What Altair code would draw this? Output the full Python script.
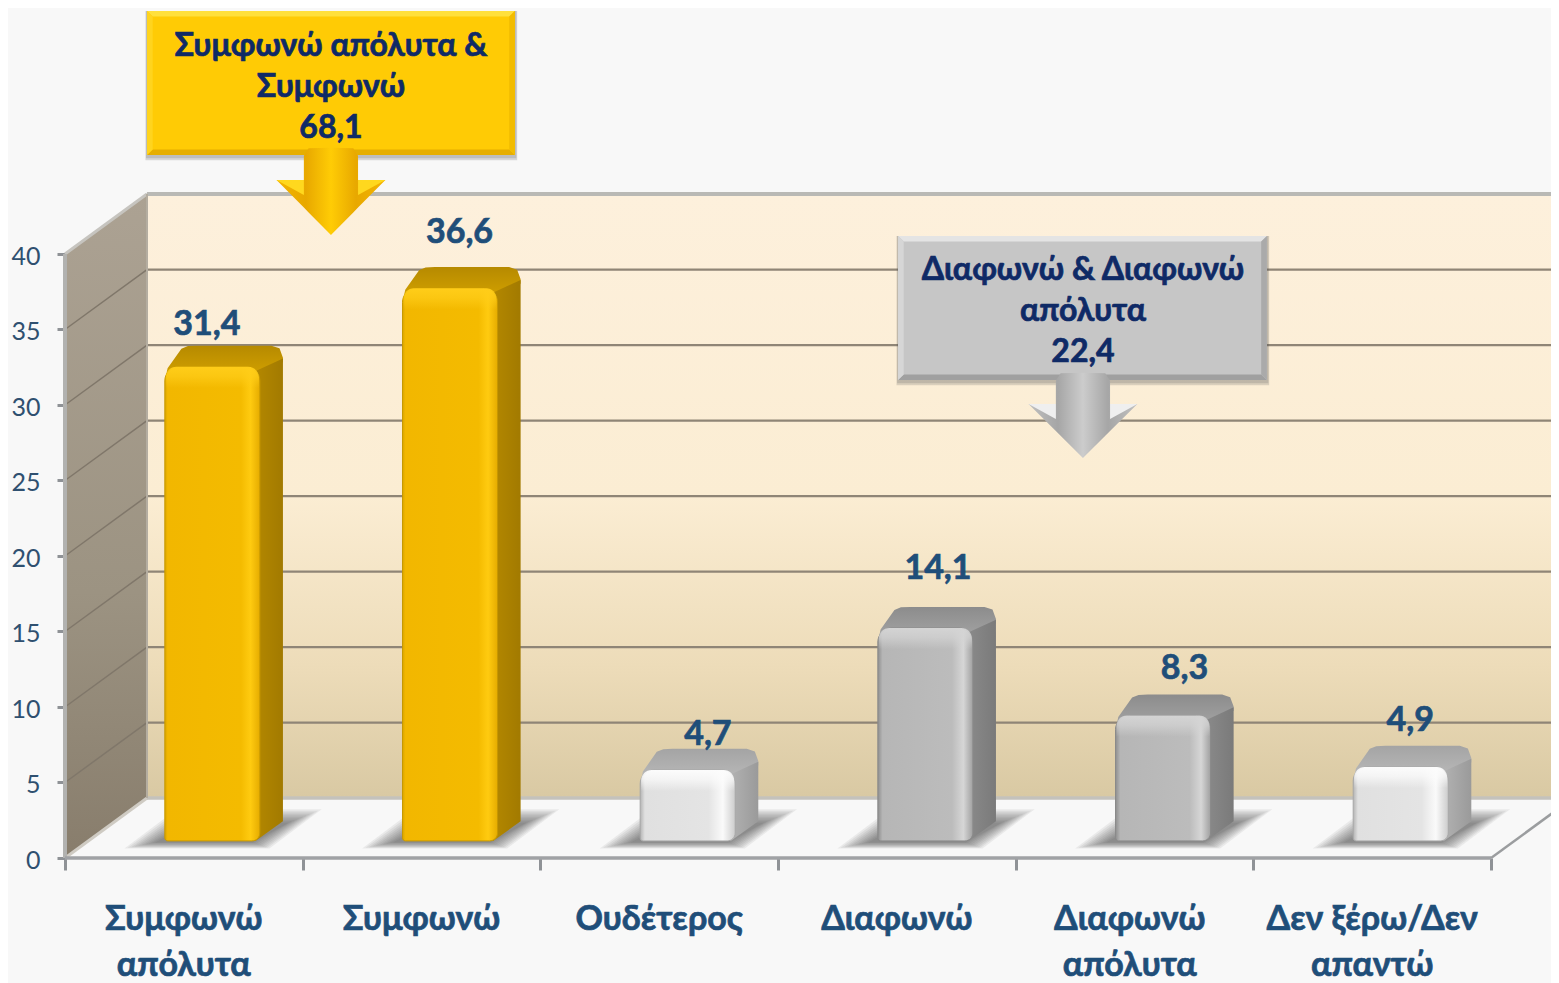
import altair as alt
import pandas as pd

# ---- chart data ----
categories = ["Συμφωνώ\nαπόλυτα", "Συμφωνώ", "Ουδέτερος", "Διαφωνώ", "Διαφωνώ\nαπόλυτα", "Δεν ξέρω/Δεν\nαπαντώ"]
values = [31.4, 36.6, 4.7, 14.1, 8.3, 4.9]
value_labels = ["31,4", "36,6", "4,7", "14,1", "8,3", "4,9"]
bar_groups = ["gold", "gold", "light", "silver", "silver", "light"]
y_ticks = [0, 5, 10, 15, 20, 25, 30, 35, 40]
callouts = ["Συμφωνώ απόλυτα &\nΣυμφωνώ\n68,1", "Διαφωνώ & Διαφωνώ\nαπόλυτα\n22,4"]

# ---- layout (data units: one category = 1 on x, one percentage point = 1 on y) ----
W, H = 1543, 975
XD = [-0.2398, 6.2523]
YD = [-8.278, 56.29]
DX, DY = 0.345, 3.97         # depth of the box
BAR_L, BAR_W, BAR_B = 0.42, 0.40, 1.13
SD, SH = 0.097, 1.4          # bar depth
FONT = "Lato"
BLUE = "#1f4e79"
NAVY = "#0f2a66"

xs = alt.Scale(domain=XD, nice=False, zero=False)
ys = alt.Scale(domain=YD, nice=False, zero=False)
XAX = alt.Axis(values=list(range(7)), labels=False, title=None, grid=False, domain=False,
               tickSize=12, tickWidth=3, tickColor="#8f9296", offset=-125)
YAX = alt.Axis(values=y_ticks, title=None, grid=False, domain=False, tickSize=8, tickWidth=3,
               tickColor="#8f9296", offset=-57, labelPadding=17, labelFontSize=25, labelOffset=2.5,
               labelFont=FONT, labelColor="#2f5070", labelFlush=False)
X = alt.X("x:Q", scale=xs, axis=XAX)
Y = alt.Y("y:Q", scale=ys, axis=YAX, stack=False)


def grad(stops, horizontal=False):
    n = len(stops) - 1
    st = [alt.GradientStop(offset=(s[0] if isinstance(s, tuple) else i / n),
                           color=(s[1] if isinstance(s, tuple) else s)) for i, s in enumerate(stops)]
    if horizontal:
        return alt.Gradient(gradient="linear", stops=st, x1=0, x2=1, y1=0, y2=0)
    return alt.Gradient(gradient="linear", stops=st, x1=0, x2=0, y1=0, y2=1)


def poly(rows, fill, **kw):
    df = pd.DataFrame(rows, columns=["x", "y", "b"])
    return alt.Chart(df).mark_area(color=fill, orient="vertical", interpolate="linear", **kw).encode(
        x=X, y=Y, y2=alt.Y2("b"))


def rect(x0, x1, y0, y1, fill, **kw):
    df = pd.DataFrame({"x": [x0], "x2": [x1], "y": [y0], "y2": [y1]})
    return alt.Chart(df).mark_rect(color=fill, **kw).encode(x=X, x2="x2:Q", y=Y, y2="y2:Q")


def segs(seglist, color, width, **kw):
    rows = []
    for k, (a, b, c, d) in enumerate(seglist):
        rows += [{"x": a, "y": b, "k": k, "o": 0}, {"x": c, "y": d, "k": k, "o": 1}]
    return alt.Chart(pd.DataFrame(rows)).mark_line(color=color, strokeWidth=width, **kw).encode(
        x=X, y=Y, detail="k:N", order=alt.Order("o:Q"))


layers = []

# back wall
layers.append(rect(DX, 6.5, 40 + DY, DY,
                   grad([(0, "#fdf0dc"), (0.5, "#fbedd3"), (0.78, "#eddcb9"), (1, "#d9c9a3")])))

# left wall
layers.append(poly([(0, 40, 0), (DX, 40 + DY, DY)], grad([(0, "#aca293"), (0.6, "#9c9382"), (1, "#887d6c")])))

# floor
layers.append(poly([(0, 0, 0), (DX, DY, 0), (6, DY, 0), (6 + DX, DY, DY)], "#f8f8f8"))

# grid lines on the walls
gv = [v for v in y_ticks if 0 < v < 40]
layers.append(segs([(DX, v + DY, 6.5, v + DY) for v in gv], "#8f8576", 2.2))
layers.append(segs([(0, v, DX, v + DY) for v in gv], "#80776a", 1.5))

# box edges
layers.append(segs([(DX, 40 + DY, 6.5, 40 + DY)], "#b9b9b5", 4))
layers.append(segs([(0, 40, DX, 40 + DY)], "#c6c4bf", 3))
layers.append(segs([(0, 0, DX, DY)], "#cfcbc3", 3))
layers.append(segs([(DX, DY, 6.5, DY)], "#c4c2bc", 3.5))
layers.append(segs([(DX, DY, DX, 40 + DY)], "#b4ada0", 2))
layers.append(segs([(0, 0, 0, 40)], "#b2b2b0", 4))
layers.append(segs([(0, 0, 6, 0)], "#a0a2a5", 3.5))
layers.append(segs([(6, 0, 6 + DX, DY)], "#9b9d9f", 2.5))

PAL = {
    "gold": dict(
        front=[(0, "#d8a400"), (0.03, "#f2b700"), (0.8, "#f4bb00"), (0.9, "#ffcb10"), (1, "#e6ac00")],
        hi="255,205,25", side=["#b48800", "#a27a00"], top=["#b68a00", "#d6a400"], line="#c79800"),
    "silver": dict(
        front=[(0, "#8e8e8e"), (0.05, "#b6b6b6"), (0.78, "#bcbcbc"), (0.9, "#d6d6d6"), (1, "#a0a0a0")],
        hi="212,212,212", side=["#8a8a8a", "#7a7a7a"], top=["#8c8c8c", "#a6a6a6"], line="#8a8a8a"),
    "light": dict(
        front=[(0, "#b4b4b4"), (0.05, "#e0e0e0"), (0.72, "#e4e4e4"), (0.87, "#fafafa"), (1, "#cccccc")],
        hi="252,252,252", side=["#b2b2b2", "#9a9a9a"], top=["#a4a4a4", "#bcbcbc"], line="#a8a8a8"),
}

# floor shadows: nested translucent parallelograms
SHADOW_STEPS = [k / 9 for k in range(10)]
for i in range(6):
    x0 = i + BAR_L
    x1 = x0 + BAR_W
    for e in SHADOW_STEPS:
        a = x0 - 0.17 + 0.13 * e
        c = x1 + 0.04 - 0.07 * e
        d = 0.22 - 0.07 * e
        t = BAR_B + 2.1 - 0.9 * e
        b = BAR_B - 0.5 + 0.4 * e
        layers.append(poly([(a, b, b), (a + d, t, b), (c, t, b), (c + d, t, t)], "#333333", opacity=0.075))

# bars
for i, (v, g) in enumerate(zip(values, bar_groups)):
    p = PAL[g]
    x0 = i + BAR_L
    x1 = x0 + BAR_W
    T = BAR_B + v
    B = BAR_B
    layers.append(poly([(x0, T - 0.9, T - 0.9), (x0 + SD * 0.12, T - 0.1, T - 0.9), (x0 + SD * 0.72, T + SH - 0.2, T - 0.9),
                        (x0 + SD * 1.0, T + SH - 0.03, T - 0.9), (x0 + SD * 1.4, T + SH, T - 0.9),
                        (x1 + SD * 0.5, T + SH, T - 0.9), (x1 + SD * 0.85, T + SH - 0.18, T + SH - 1.1),
                        (x1 + SD, T + SH - 0.8, T + SH - 1.1)], grad(p["top"])))
    layers.append(poly([(x1 - 0.02, T - 0.3, B - 0.02), (x1 + SD, T + SH - 0.85, B + SH - 0.1)],
                       grad(p["side"], horizontal=True)))
    layers.append(rect(x0, x1, T, B, grad(p["front"], horizontal=True),
                       cornerRadiusTopLeft=14, cornerRadiusTopRight=14,
                       cornerRadiusBottomLeft=3, cornerRadiusBottomRight=8,
                       stroke=p["line"], strokeWidth=1))
    layers.append(rect(x0 + 0.004, x1 - 0.004, T, T - 1.4,
                       grad([(0, f"rgba({p['hi']},1)"), (0.45, f"rgba({p['hi']},0.7)"), (1, f"rgba({p['hi']},0)")]),
                       cornerRadiusTopLeft=13, cornerRadiusTopRight=13))

# value labels
label_x = [0.597, 1.66, 2.705, 3.673, 4.71, 5.66]
label_y = [1.39, 2.25, 0.93, 2.52, 1.66, 1.66]
vl = pd.DataFrame({"x": label_x, "y": [BAR_B + v + SH + g for v, g in zip(values, label_y)], "t": value_labels})
layers.append(alt.Chart(vl).mark_text(font=FONT, fontWeight="bold", fontSize=34, color=BLUE, baseline="middle",
                                      stroke=BLUE, strokeWidth=0.7).encode(x=X, y=Y, text="t:N"))

# category labels
cat_nudge = [0, 0, 0, 0, -0.02, 0]
cl = pd.DataFrame({"x": [i + 0.5 + n for i, n in enumerate(cat_nudge)], "y": [-4.78] * 6, "t": categories})
layers.append(alt.Chart(cl).mark_text(font=FONT, fontWeight="bold", fontSize=34, color=BLUE, baseline="alphabetic",
                                      stroke=BLUE, strokeWidth=0.7,
                                      lineBreak="\n", lineHeight=46).encode(x=X, y=Y, text="t:N"))


def callout(x0, x1, top, bot, cx, head_top, tip, pal, text, text_y):
    e_x, e_y = 0.024, 0.36
    sw, hw = 0.114, 0.229
    stem_top = bot + 0.45
    # soft shadow
    for k in (1.6, 1):
        layers.append(rect(x0 - 0.004 * k, x1 + 0.006 * k, top, bot - 0.22 * k, "#555555", opacity=0.2))
    # box
    layers.append(rect(x0, x1, top, bot, pal["main"]))
    layers.append(poly([(x0, top, top), (x0 + e_x, top, top - e_y), (x1 - e_x, top, top - e_y), (x1, top, top)], pal["t"]))
    layers.append(poly([(x0, bot, bot), (x0 + e_x, bot + e_y, bot), (x1 - e_x, bot + e_y, bot), (x1, bot, bot)], pal["b"]))
    layers.append(poly([(x0, top, bot), (x0 + e_x, top - e_y, bot + e_y)], pal["l"]))
    layers.append(poly([(x1 - e_x, top - e_y, bot + e_y), (x1, top, bot)], pal["r"]))
    # arrow: stem and head as one outline, then the bright wings
    depth = head_top - tip
    edge = head_top - depth * (hw - sw) / hw
    layers.append(poly([(cx - hw, head_top, head_top), (cx - sw, head_top, edge), (cx - sw, stem_top - 0.5, edge),
                        (cx - sw + 0.02, stem_top, edge + depth * 0.02 / hw * -1), (cx, stem_top + 0.02, tip),
                        (cx + sw - 0.02, stem_top, edge + depth * 0.02 / hw * -1), (cx + sw, stem_top - 0.5, edge),
                        (cx + sw, head_top, edge), (cx + hw, head_top, head_top)],
                       grad(pal["head"], horizontal=True)))
    layers.append(poly([(cx - hw, head_top, head_top), (cx - sw, head_top, head_top - 1.0)], pal["wing"]))
    layers.append(poly([(cx + sw, head_top, head_top - 1.0), (cx + hw, head_top, head_top)], pal["wing"]))
    df = pd.DataFrame({"x": [cx], "y": [text_y], "t": [text]})
    layers.append(alt.Chart(df).mark_text(font=FONT, fontWeight="bold", fontSize=32, color=NAVY, baseline="middle",
                                          stroke=NAVY, strokeWidth=0.7,
                                          lineBreak="\n", lineHeight=41).encode(x=X, y=Y, text="t:N"))


callout(0.345, 1.893, 56.09, 46.56, 1.119, 44.9, 41.26, dict(
    main="#ffcb05", t="#ffe03c", b="#e6ae00", l="#ffd41e", r="#f2bc00",
    head=[(0, "#f3b400"), (0.27, "#e8a800"), (0.5, "#ffcc05"), (0.73, "#e8a800"), (1, "#f3b400")],
    wing="#ffd81e"), callouts[0], 53.8)
callout(3.505, 5.057, 41.19, 31.66, 4.283, 30.07, 26.49, dict(
    main="#c6c6c6", t="#e4e4e4", b="#a0a0a0", l="#d6d6d6", r="#aaaaaa",
    head=[(0, "#c0c0c0"), (0.27, "#a6a6a6"), (0.5, "#cccccc"), (0.73, "#a6a6a6"), (1, "#c0c0c0")],
    wing="#efefef"), callouts[1], 38.97)

chart = alt.layer(*layers).properties(
    width=W, height=H, padding=0, background="#f8f8f8",
    autosize=alt.AutoSizeParams(type="none"),
).configure_view(stroke=None)

chart.save("out.html", embed_options={"renderer": "svg", "actions": False})
